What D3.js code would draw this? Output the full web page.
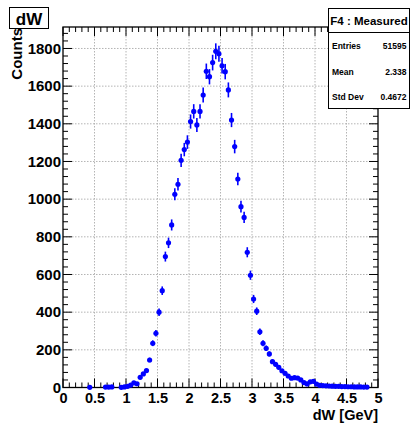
<!DOCTYPE html>
<html>
<head>
<meta charset="utf-8">
<script src="https://cdn.jsdelivr.net/npm/d3@7"></script>
<style>
  html, body { margin: 0; padding: 0; background: #fff; }
  svg { display: block; font-family: "Liberation Sans", Arial, Helvetica, sans-serif; font-weight: bold; }
</style>
</head>
<body>
<div id="chart"></div>
<script>
// ---- data ----
const binCenters = [0.425, 0.675, 0.725, 0.775, 0.925, 0.975, 1.025, 1.075, 1.125, 1.175,
  1.225, 1.275, 1.325, 1.375, 1.425, 1.475, 1.525, 1.575, 1.625, 1.675,
  1.725, 1.775, 1.825, 1.875, 1.925, 1.975, 2.025, 2.075, 2.125, 2.175,
  2.225, 2.275, 2.325, 2.375, 2.425, 2.475, 2.525, 2.575, 2.625, 2.675,
  2.725, 2.775, 2.825, 2.875, 2.925, 2.975, 3.025, 3.075, 3.125, 3.175,
  3.225, 3.275, 3.325, 3.375, 3.425, 3.475, 3.525, 3.575, 3.625, 3.675,
  3.725, 3.775, 3.825, 3.875, 3.925, 3.975, 4.025, 4.075, 4.125, 4.175,
  4.225, 4.275, 4.325, 4.375, 4.425, 4.475, 4.525, 4.575, 4.625, 4.675,
  4.725, 4.775, 4.825];
const counts = [1, 2, 2, 3, 1, 3, 6, 13, 25, 20,
  54, 72, 90, 146, 235, 288, 400, 514, 695, 768,
  863, 1026, 1079, 1206, 1263, 1303, 1412, 1466, 1394, 1466,
  1553, 1679, 1650, 1725, 1785, 1772, 1708, 1677, 1580, 1420,
  1279, 1107, 960, 903, 718, 596, 470, 405, 296, 235,
  208, 178, 137, 123, 107, 89, 75, 61, 49, 52,
  50, 40, 26, 19, 30, 33, 18, 12, 10, 9,
  8, 7, 6, 6, 5, 5, 4, 4, 3, 3,
  3, 2, 2];
const binWidth = 0.05;
const xTicks = [0, 0.5, 1, 1.5, 2, 2.5, 3, 3.5, 4, 4.5, 5];
const xTickLabels = ["0", "0.5", "1", "1.5", "2", "2.5", "3", "3.5", "4", "4.5", "5"];
const yTicks = [0, 200, 400, 600, 800, 1000, 1200, 1400, 1600, 1800];
const xDomain = [0, 5];
const yDomain = [0, 1914];
const histTitle = "dW";
const xTitle = "dW [GeV]";
const yTitle = "Counts";
const statsTitle = "F4 : Measured";
const statsLabels = ["Entries", "Mean", "Std Dev"];
const statsValues = ["51595", "2.338", "0.4672"];

// ---- drawing ----
const W = 411, H = 423;
const L = 63, R = 378, T = 27, B = 387.5;
const svg = d3.select("#chart").append("svg").attr("width", W).attr("height", H);
svg.append("rect").attr("width", W).attr("height", H).attr("fill", "#fff");

const x = d3.scaleLinear().domain(xDomain).range([L, R]);
const y = d3.scaleLinear().domain(yDomain).range([B, T]);

// grid
const grid = svg.append("g").attr("stroke", "#b4b4b4").attr("stroke-width", 1).attr("stroke-dasharray", "1.5,1.5");
xTicks.slice(1, -1).forEach(v => grid.append("line").attr("x1", x(v)).attr("x2", x(v)).attr("y1", T).attr("y2", B));
yTicks.slice(1).forEach(v => grid.append("line").attr("x1", L).attr("x2", R).attr("y1", y(v)).attr("y2", y(v)));

// ticks (ROOT style: inward on all four sides)
const xMinor = d3.range(0, 51).map(i => i / 10);
const yMinor = d3.range(0, Math.floor(yDomain[1] / 40) + 1).map(i => i * 40);
const tk = svg.append("g").attr("stroke", "#000").attr("stroke-width", 1);
xMinor.forEach(v => {
  const major = Math.abs(v * 2 - Math.round(v * 2)) < 1e-6;
  const len = major ? 9 : 5;
  tk.append("line").attr("x1", x(v)).attr("x2", x(v)).attr("y1", B).attr("y2", B - len);
  tk.append("line").attr("x1", x(v)).attr("x2", x(v)).attr("y1", T).attr("y2", T + len);
});
yMinor.forEach(v => {
  const major = v % 200 === 0;
  const len = major ? 9 : 5;
  tk.append("line").attr("x1", L).attr("x2", L + len).attr("y1", y(v)).attr("y2", y(v));
  tk.append("line").attr("x1", R).attr("x2", R - len).attr("y1", y(v)).attr("y2", y(v));
});

// frame
svg.append("rect").attr("x", L).attr("y", T).attr("width", R - L).attr("height", B - T)
  .attr("fill", "none").attr("stroke", "#000").attr("stroke-width", 1.3);

// axis tick labels using d3 axes, with tick lines hidden
const xAxis = d3.axisBottom(x).tickValues(xTicks).tickFormat((d, i) => xTickLabels[i]).tickSize(0).tickPadding(5);
const gx = svg.append("g").attr("transform", `translate(0,${B})`).call(xAxis);
gx.select(".domain").remove();
gx.selectAll("text").attr("font-size", 14.5).attr("font-weight", "bold").attr("fill", "#000")
  .attr("font-family", "Liberation Sans, Arial, sans-serif");

const yAxis = d3.axisLeft(y).tickValues(yTicks).tickFormat(d3.format("d")).tickSize(0).tickPadding(2);
const gy = svg.append("g").attr("transform", `translate(${L},0)`).call(yAxis);
gy.select(".domain").remove();
gy.selectAll("text").attr("font-size", 15).attr("font-weight", "bold").attr("fill", "#000")
  .attr("font-family", "Liberation Sans, Arial, sans-serif");

// axis titles
svg.append("text").attr("x", R).attr("y", 420).attr("text-anchor", "end")
  .attr("font-size", 14.5).attr("fill", "#000").text(xTitle);
svg.append("text").attr("transform", `translate(22,28) rotate(-90)`).attr("text-anchor", "end")
  .attr("font-size", 15).attr("fill", "#000").text(yTitle);

// data: error bars + markers
const pts = svg.append("g");
binCenters.forEach((c, i) => {
  const n = counts[i];
  const e = Math.sqrt(n);
  pts.append("line").attr("x1", x(c)).attr("x2", x(c)).attr("y1", y(n - e)).attr("y2", y(n + e))
    .attr("stroke", "#0000ff").attr("stroke-width", 1.6);
  pts.append("line").attr("x1", x(c - binWidth / 2)).attr("x2", x(c + binWidth / 2)).attr("y1", y(n)).attr("y2", y(n))
    .attr("stroke", "#0000ff").attr("stroke-width", 1.6);
  pts.append("circle").attr("cx", x(c)).attr("cy", y(n)).attr("r", 2.6).attr("fill", "#0000ff");
});

// title box
svg.append("rect").attr("x", 9.5).attr("y", 7.5).attr("width", 39).attr("height", 21)
  .attr("fill", "#fff").attr("stroke", "#000").attr("stroke-width", 1);
svg.append("text").attr("x", 29).attr("y", 24.5).attr("text-anchor", "middle")
  .attr("font-size", 17).attr("fill", "#000").text(histTitle);

// stats box
const sb = svg.append("g");
sb.append("rect").attr("x", 328.5).attr("y", 8.5).attr("width", 81).attr("height", 100)
  .attr("fill", "#fff").attr("stroke", "#000").attr("stroke-width", 1);
sb.append("line").attr("x1", 328.5).attr("x2", 409.5).attr("y1", 32.5).attr("y2", 32.5)
  .attr("stroke", "#000").attr("stroke-width", 1);
sb.append("text").attr("x", 369).attr("y", 25).attr("text-anchor", "middle")
  .attr("font-size", 11.5).attr("fill", "#000").text(statsTitle);
const rowY = [49, 75, 100];
statsLabels.forEach((lab, i) => {
  sb.append("text").attr("x", 332).attr("y", rowY[i]).attr("font-size", 8.5).attr("fill", "#000").text(lab);
  sb.append("text").attr("x", 406.5).attr("y", rowY[i]).attr("text-anchor", "end")
    .attr("font-size", 8.5).attr("fill", "#000").text(statsValues[i]);
});
</script>
</body>
</html>
